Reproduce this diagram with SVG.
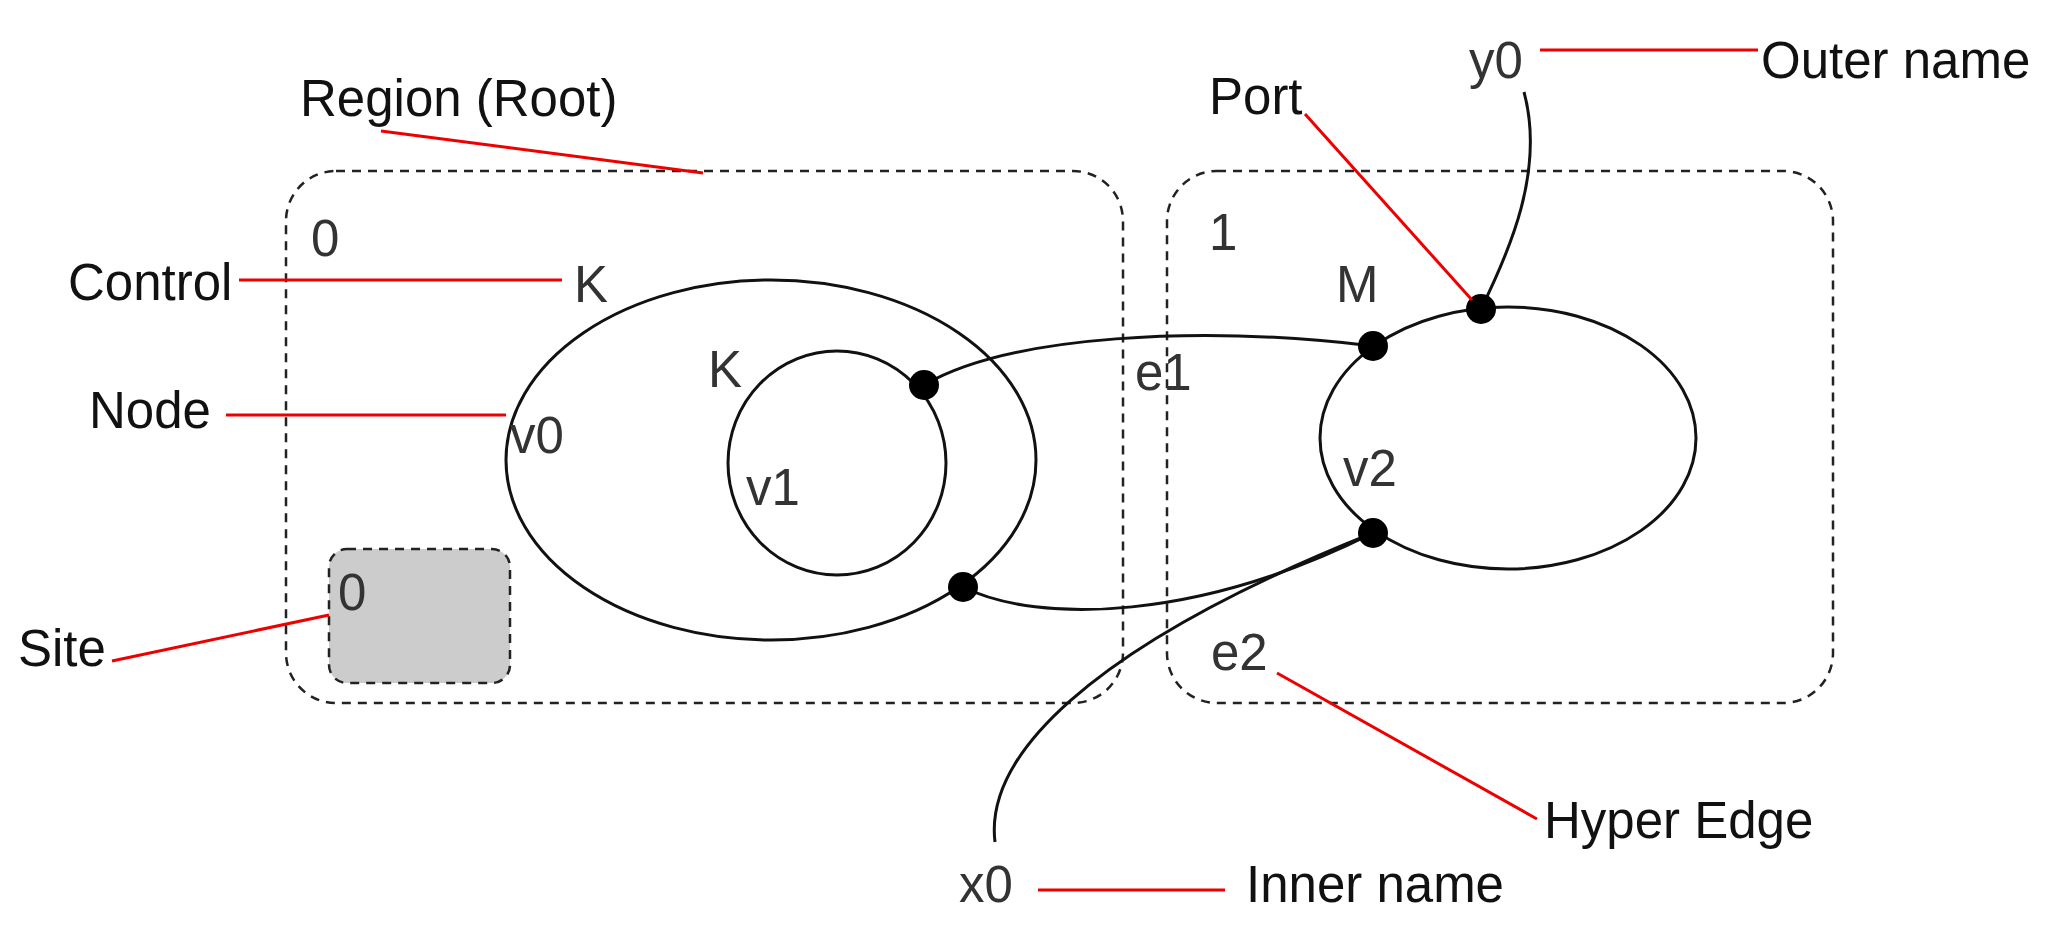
<svg xmlns="http://www.w3.org/2000/svg" width="2050" height="933" viewBox="0 0 2050 933">
<style>
text{font-family:"Liberation Sans",Arial,sans-serif;font-size:51px;fill:#111}
.lbl{fill:#333}
.dash{fill:none;stroke:#222;stroke-width:2.5;stroke-dasharray:9 7}
.node{fill:none;stroke:#111;stroke-width:3}
.edge{fill:none;stroke:#111;stroke-width:3}
.red{stroke:#e00;stroke-width:3;fill:none}
.port{fill:#000}
</style>
<rect width="2050" height="933" fill="#fff"/>
<g id="region0"><rect class="dash" x="286" y="171" width="837" height="532" rx="50"/><text class="lbl" x="311" y="256">0</text></g>
<g id="region1"><rect class="dash" x="1167" y="171" width="666" height="532" rx="50"/><text class="lbl" x="1209" y="250">1</text></g>
<g id="site"><rect x="329" y="549" width="181" height="134" rx="18" fill="#ccc" stroke="#222" stroke-width="2.5" stroke-dasharray="9 7"/><text class="lbl" x="338" y="610">0</text></g>
<g id="v0"><ellipse class="node" cx="771" cy="460" rx="265" ry="180"/><text class="lbl" x="510" y="453">v0</text><text class="lbl" x="574" y="302">K</text></g>
<g id="v1"><ellipse class="node" cx="837" cy="463" rx="109" ry="112"/><text class="lbl" x="746" y="505">v1</text><text class="lbl" x="708" y="387">K</text></g>
<g id="v2"><ellipse class="node" cx="1508" cy="438" rx="188" ry="131"/><text class="lbl" x="1343" y="486">v2</text><text class="lbl" x="1336" y="302">M</text></g>
<g id="connectors">
<path class="edge" d="M924,385 C1010,335 1200,325 1373,346"/>
<path class="edge" d="M963,587 C1040,625 1200,620 1373,533"/>
<path class="edge" d="M995,842 C985,760 1080,650 1373,533"/>
<path class="edge" d="M1524,92 C1545,170 1510,250 1481,309"/>
<text class="lbl" x="1135" y="390">e1</text>
<text class="lbl" x="1211" y="670">e2</text>
</g>
<g id="ports">
<circle class="port" cx="924" cy="385" r="15"/>
<circle class="port" cx="963" cy="587" r="15"/>
<circle class="port" cx="1373" cy="346" r="15"/>
<circle class="port" cx="1481" cy="309" r="15"/>
<circle class="port" cx="1373" cy="533" r="15"/>
</g>
<g id="annotations">
<line class="red" x1="381" y1="131" x2="703" y2="173"/><text x="300" y="116">Region (Root)</text>
<line class="red" x1="239" y1="280" x2="562" y2="280"/><text x="68" y="300">Control</text>
<line class="red" x1="226" y1="415" x2="506" y2="415"/><text x="89" y="428">Node</text>
<line class="red" x1="112" y1="661" x2="329" y2="615"/><text x="18" y="666">Site</text>
<line class="red" x1="1305" y1="114" x2="1472" y2="300"/><text x="1209" y="114">Port</text>
<text class="lbl" x="1469" y="78">y0</text>
<line class="red" x1="1540" y1="50" x2="1758" y2="50"/><text x="1761" y="78">Outer name</text>
<line class="red" x1="1277" y1="673" x2="1537" y2="819"/><text x="1544" y="838">Hyper Edge</text>
<text class="lbl" x="959" y="902">x0</text>
<line class="red" x1="1038" y1="890" x2="1225" y2="890"/><text x="1246" y="902">Inner name</text>
</g>
</svg>
